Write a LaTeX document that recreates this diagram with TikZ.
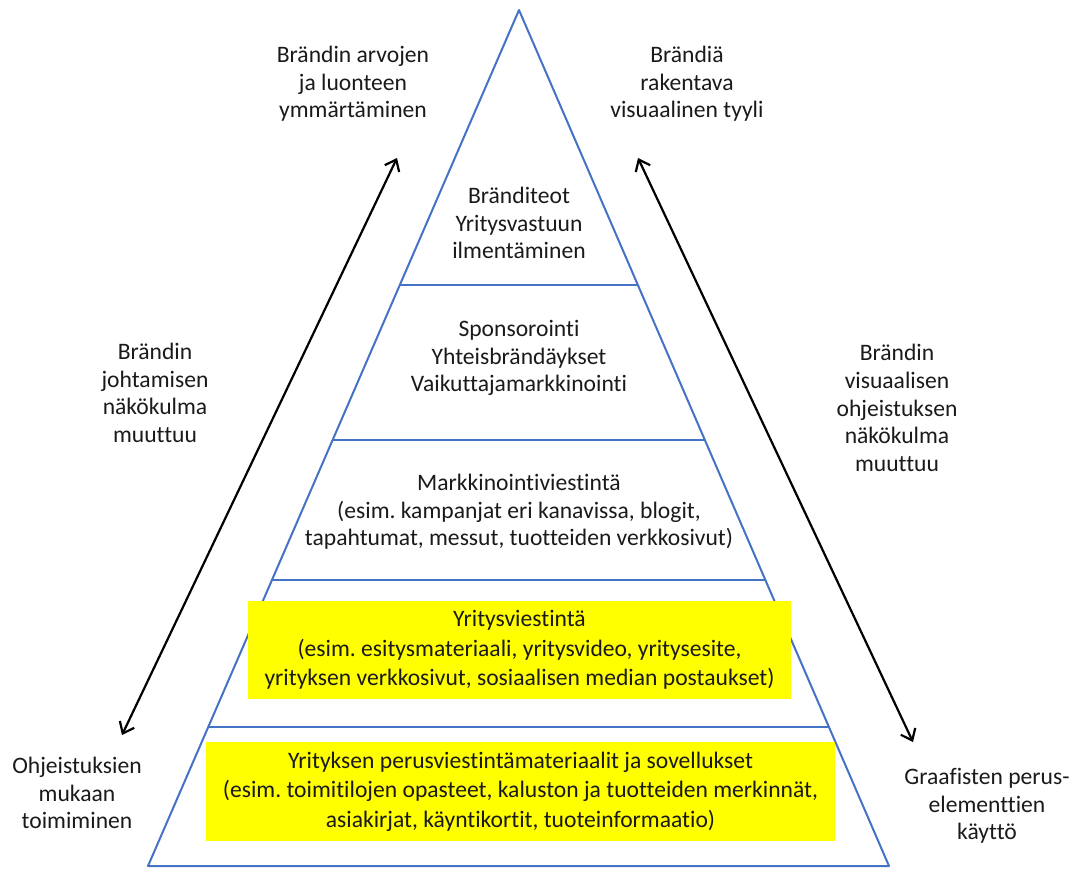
\documentclass[tikz,border=0pt]{standalone}
\usepackage{fontspec}
\setmainfont[Ligatures={NoCommon}]{Carlito}
\usetikzlibrary{arrows.meta,calc}
\definecolor{pyrblue}{HTML}{4472C4}
\definecolor{hilite}{HTML}{FFFF00}
\definecolor{inktext}{HTML}{1A1A1A}
\frenchspacing
\begin{document}
\begin{tikzpicture}[x=1pt,y=-1pt,
  lbl/.style={align=center,font=\fontsize{23.6}{27.6}\selectfont,text=inktext,inner sep=0pt},
  ybox/.style={fill=hilite,align=center,font=\fontsize{23.6}{29.5}\selectfont,text=inktext,inner sep=0pt},
  tier/.style={draw=pyrblue,line width=2pt},
  dblarrow/.style={{Straight Barb[length=10pt,width=16pt]}-{Straight Barb[length=10pt,width=16pt]},line width=2.2pt,draw=black}
]
\useasboundingbox (0,0) rectangle (1082,870);

% pyramid outline
\coordinate (A) at (519,10);
\coordinate (BL) at (148,866);
\coordinate (BR) at (889,866);
\draw[tier,line join=round] (A) -- (BL) -- (BR) -- cycle;

% tier separators
\foreach \t in {0.3213,0.5023,0.6659,0.8376}
  \draw[tier] ($(A)!\t!(BL)$) -- ($(A)!\t!(BR)$);

% highlighted tiers
\node[ybox,minimum width=543pt,minimum height=98pt] (corp) at (519.5,650)
  {Yritysviestintä\\(esim. esitysmateriaali, yritysvideo, yritysesite,\\yrityksen verkkosivut, sosiaalisen median postaukset)};
\node[ybox,minimum width=629pt,minimum height=99pt] (base) at (520.5,791.5)
  {Yrityksen perusviestintämateriaalit ja sovellukset\\(esim. toimitilojen opasteet, kaluston ja tuotteiden merkinnät,\\asiakirjat, käyntikortit, tuoteinformaatio)};

% tier texts
\node[lbl] (deeds) at (519,223) {Bränditeot\\Yritysvastuun\\ilmentäminen};
\node[lbl] (spons) at (519,358) {Sponsorointi\\Yhteisbrändäykset\\Vaikuttajamarkkinointi};
\node[lbl] (mark) at (519,512) {Markkinointiviestintä\\(esim. kampanjat eri kanavissa, blogit,\\tapahtumat, messut, tuotteiden verkkosivut)};

% side texts
\node[lbl] (values) at (353,84) {Brändin arvojen\\ja luonteen\\ymmärtäminen};
\node[lbl] (style) at (687,84) {Brändiä\\rakentava\\visuaalinen tyyli};
\node[lbl] (mgmt) at (155,393) {Brändin\\johtamisen\\näkökulma\\muuttuu};
\node[lbl] (visual) at (897,408) {Brändin\\visuaalisen\\ohjeistuksen\\näkökulma\\muuttuu};
\node[lbl] (guide) at (77,793) {Ohjeistuksien\\mukaan\\toimiminen};
\node[lbl] (graph) at (987,806) {Graafisten perus-\\elementtien\\käyttö};

% double-headed arrows
\coordinate (L1) at (122,735);
\coordinate (L2) at (397,158);
\coordinate (R1) at (638,158);
\coordinate (R2) at (913,742);
\draw[dblarrow] (L1) -- (L2);
\draw[dblarrow] (R1) -- (R2);
\end{tikzpicture}
\end{document}
